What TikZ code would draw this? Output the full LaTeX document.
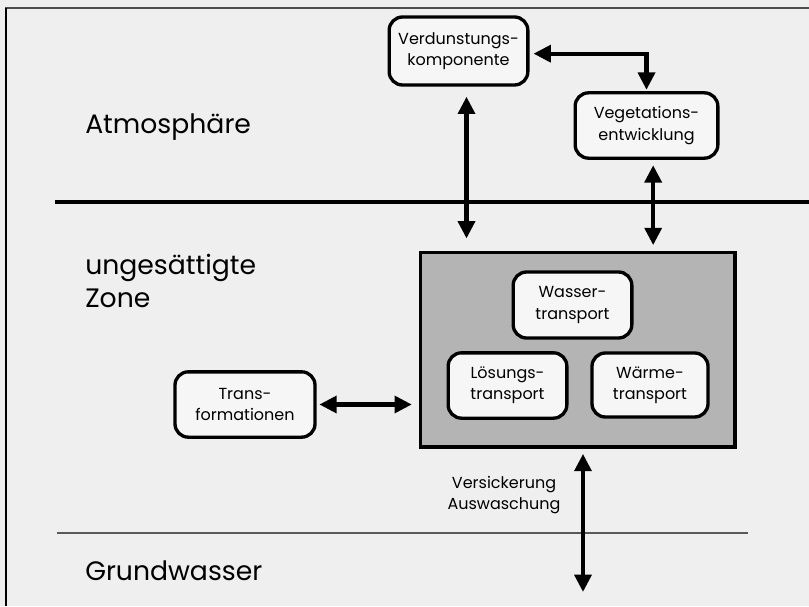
\documentclass[tikz,border=0pt]{standalone}
\usepackage{fontspec}
\setmainfont{Poppins}
\usetikzlibrary{arrows.meta}

\definecolor{paper}{RGB}{239,239,239}
\definecolor{boxfill}{RGB}{246,246,246}
\definecolor{soilgray}{RGB}{180,180,180}

\tikzset{
  proc/.style={draw, line width=2.5pt, rounded corners=10pt, fill=boxfill, align=center,
    inner sep=0pt, font=\fontsize{12}{16}\selectfont},
  flux/.style={line width=3.2pt, {Triangle[width=12.5pt,length=13pt]}-{Triangle[width=12.5pt,length=13pt]}},
  zone/.style={anchor=west, align=left, inner sep=0pt, font=\fontsize{20}{25}\selectfont}
}

\begin{document}
\begin{tikzpicture}[x=0.75pt,y=0.75pt,yscale=-1,xscale=1]
\useasboundingbox (0,0) rectangle (809,606);
\fill [paper] (0,0) rectangle (809,606);

%Straight Lines (frame)
\draw [line width=1.2pt, gray!60!black] (5,8) -- (809,8) ;
\draw [line width=1.5pt] (6,8) -- (6,606) ;
%Straight Lines (zone borders)
\draw [line width=3.2pt] (55,202) -- (809,202) ;
\draw [line width=1.5pt, gray!70!black] (57,533) -- (748,533) ;

%Shape: Rectangle (soil column)
\node [draw, line width=2.5pt, fill=soilgray, minimum width=236pt, minimum height=146pt, inner sep=0pt] (soil) at (577.5,349.5) {};

% Process boxes
\node [proc, minimum width=104pt, minimum height=51pt] (verd) at (458.5,51) {Verdunstungs-\\komponente};
\node [proc, minimum width=107pt, minimum height=49pt] (veg) at (646.5,125.5) {Vegetations-\\entwicklung};
\node [proc, minimum width=89pt, minimum height=49.5pt] (wasser) at (572.5,305) {Wasser-\\transport};
\node [proc, minimum width=89pt, minimum height=49pt] (loes) at (507.5,385.5) {Lösungs-\\transport};
\node [proc, minimum width=87pt, minimum height=48pt] (waerme) at (650,385) {Wärme-\\transport};
\node [proc, minimum width=105pt, minimum height=49pt] (transf) at (245,404.5) {Trans-\\formationen};

% Text Node
\node [zone] (atmo) at (85,127) {Atmosphäre};
% Text Node
\node [zone] (unges) at (85,281) {ungesättigte\\Zone};
% Text Node
\node [zone] (grund) at (85,571) {Grundwasser};
% Text Node
\node [align=center, inner sep=0pt, font=\fontsize{12}{16}\selectfont] (sicker) at (504,495) {Versickerung\\Auswaschung};

%Arrows
\draw [flux, shorten <=3pt, shorten >=1pt] ([yshift=2pt]verd.east) -| (veg.north) ;
\draw [flux, shorten <=7.5pt, shorten >=9pt] ([xshift=6pt]verd.south) -- ([xshift=6pt]verd.south |- soil.north) ;
\draw [flux, shorten <=4pt, shorten >=4pt] ([xshift=5pt]veg.south) -- ([xshift=5pt]veg.south |- soil.north) ;
\draw [flux, shorten <=2pt, shorten >=5pt] (transf.east) -- (transf.east -| soil.west) ;
\coordinate (gw) at (583,592) ;
\draw [flux, shorten <=4pt] (soil.south -| gw) -- (gw) ;

\end{tikzpicture}
\end{document}
